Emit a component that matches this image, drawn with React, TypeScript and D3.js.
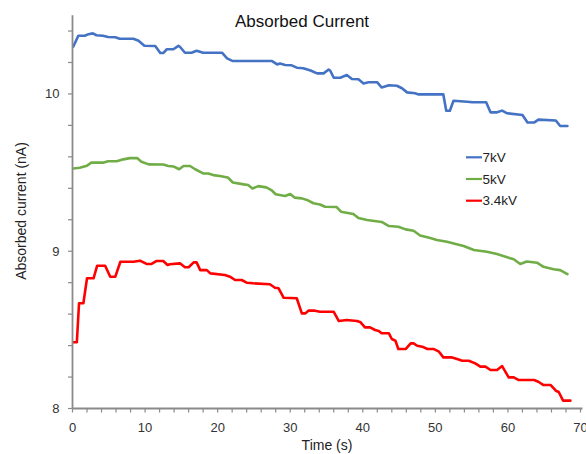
import React from "react";
import * as d3 from "d3";

const title = "Absorbed Current";
const xLabel = "Time (s)";
const yLabel = "Absorbed current (nA)";
const xTickLabels = [0, 10, 20, 30, 40, 50, 60, 70];
const yTickLabels = [8, 9, 10];
const seriesNames = ["7kV", "5kV", "3.4kV"];
const seriesColors = ["#4472C4", "#70AD47", "#FF0000"];

const t7 = [0.1, 0.8, 1.7, 2.2, 2.8, 3.3, 4.2, 4.9, 5.9, 6.5, 8.4, 9.1, 9.9, 11.4, 12.1, 12.5, 13.0, 13.9, 14.6, 14.8, 15.5, 16.4, 17.1, 18.0, 20.6, 21.3, 22.1, 27.5, 28.2, 28.6, 29.3, 30.2, 30.9, 31.8, 32.8, 33.7, 34.6, 35.3, 35.5, 36.0, 36.9, 37.8, 38.5, 39.4, 40.1, 40.8, 42.0, 42.6, 43.6, 44.7, 45.4, 46.1, 47.2, 47.7, 51.1, 51.5, 52.0, 52.5, 54.4, 55.1, 57.0, 57.6, 58.5, 59.2, 59.9, 62.0, 62.7, 63.6, 64.2, 66.6, 67.2, 68.2];
const v7 = [10.3, 10.37, 10.37, 10.38, 10.385, 10.373, 10.37, 10.362, 10.36, 10.351, 10.351, 10.338, 10.306, 10.305, 10.26, 10.26, 10.284, 10.284, 10.306, 10.3, 10.262, 10.262, 10.275, 10.262, 10.262, 10.226, 10.209, 10.209, 10.188, 10.193, 10.184, 10.182, 10.167, 10.163, 10.149, 10.131, 10.131, 10.155, 10.149, 10.103, 10.103, 10.12, 10.095, 10.093, 10.067, 10.074, 10.074, 10.041, 10.055, 10.052, 10.036, 10.01, 10.004, 9.997, 9.997, 9.893, 9.893, 9.957, 9.95, 9.947, 9.947, 9.883, 9.883, 9.894, 9.877, 9.866, 9.818, 9.818, 9.837, 9.831, 9.796, 9.796];

const t5 = [0.1, 1.0, 2.0, 2.6, 4.2, 4.9, 6.1, 7.0, 7.9, 8.9, 9.5, 10.5, 12.5, 13.2, 13.9, 14.7, 15.3, 16.2, 16.9, 18.0, 18.7, 19.4, 20.3, 21.4, 22.1, 23.6, 24.2, 24.8, 25.6, 26.7, 27.4, 28.0, 29.3, 30.0, 30.6, 31.6, 32.3, 33.2, 34.1, 34.8, 36.4, 37.0, 38.7, 39.4, 40.6, 42.6, 43.6, 44.9, 45.9, 47.0, 47.9, 49.3, 50.2, 51.6, 52.8, 53.9, 55.3, 57.1, 58.5, 59.9, 60.8, 61.7, 62.6, 64.0, 64.9, 66.3, 67.2, 68.2];
const v5 = [9.526, 9.531, 9.544, 9.563, 9.563, 9.572, 9.572, 9.584, 9.592, 9.592, 9.569, 9.552, 9.551, 9.542, 9.539, 9.521, 9.542, 9.542, 9.521, 9.495, 9.494, 9.484, 9.478, 9.469, 9.437, 9.425, 9.421, 9.399, 9.414, 9.406, 9.389, 9.362, 9.351, 9.364, 9.341, 9.336, 9.326, 9.305, 9.297, 9.283, 9.281, 9.251, 9.237, 9.211, 9.198, 9.186, 9.16, 9.156, 9.139, 9.13, 9.1, 9.084, 9.071, 9.06, 9.046, 9.033, 9.008, 8.997, 8.982, 8.961, 8.949, 8.919, 8.935, 8.927, 8.901, 8.885, 8.88, 8.855];

const t34 = [0.1, 0.6, 0.9, 1.5, 2.0, 2.9, 3.4, 4.5, 5.2, 5.9, 6.6, 8.4, 9.3, 10.2, 10.9, 11.6, 12.5, 13.1, 13.4, 14.8, 15.5, 16.0, 16.7, 17.1, 17.6, 18.5, 19.0, 21.0, 21.7, 22.4, 23.3, 24.0, 24.9, 27.2, 27.9, 28.4, 29.1, 30.9, 31.6, 32.1, 32.5, 33.4, 34.1, 36.0, 36.7, 37.8, 39.2, 39.7, 40.3, 41.0, 41.7, 42.2, 42.6, 43.6, 44.0, 44.5, 44.9, 45.9, 46.6, 47.0, 47.5, 48.2, 48.9, 49.8, 50.5, 51.1, 52.3, 53.0, 53.7, 54.6, 55.5, 56.2, 56.9, 57.6, 58.5, 59.2, 60.1, 60.8, 61.5, 63.6, 64.2, 64.9, 65.9, 66.6, 67.0, 67.6, 68.6];
const v34 = [8.421, 8.421, 8.669, 8.669, 8.828, 8.828, 8.908, 8.908, 8.838, 8.838, 8.933, 8.933, 8.94, 8.919, 8.919, 8.938, 8.938, 8.912, 8.917, 8.923, 8.898, 8.898, 8.929, 8.929, 8.88, 8.88, 8.859, 8.849, 8.838, 8.817, 8.817, 8.8, 8.796, 8.79, 8.768, 8.764, 8.704, 8.701, 8.605, 8.605, 8.622, 8.622, 8.615, 8.615, 8.556, 8.563, 8.556, 8.548, 8.516, 8.516, 8.499, 8.493, 8.478, 8.478, 8.442, 8.431, 8.378, 8.378, 8.414, 8.414, 8.399, 8.393, 8.378, 8.378, 8.361, 8.325, 8.325, 8.315, 8.304, 8.304, 8.287, 8.266, 8.266, 8.245, 8.245, 8.27, 8.198, 8.198, 8.181, 8.181, 8.17, 8.149, 8.149, 8.113, 8.105, 8.05, 8.05];

const seriesTimes = [t7, t5, t34];
const seriesValues = [v7, v5, v34];

const W = 586;
const H = 454;
const FONT = "'Liberation Sans', Arial, sans-serif";
const AXIS = "#8a8a8a";

export default function App() {
  const x = d3.scaleLinear().domain([0, 70]).range([72.5, 580.5]);
  const y = d3.scaleLinear().domain([8, 10.5]).range([408.5, 15.3]);
  const line = d3
    .line<[number, number]>()
    .x((d) => x(d[0]))
    .y((d) => y(d[1]));

  const xMinor = d3.range(0, 70.001, 2);
  const yMinor = d3.range(8, 10.5001, 0.2);

  return (
    <svg
      width={W}
      height={H}
      style={{ position: "absolute", left: 0, top: 0, background: "#fff" }}
      fontFamily={FONT}
    >
      <rect x={0} y={0} width={W} height={H} fill="#fff" />
      <text x={302} y={27} textAnchor="middle" fontSize={17} fill="#111">
        {title}
      </text>

      {/* series */}
      {seriesTimes.map((ts, i) => (
        <path
          key={i}
          d={line(ts.map((t, j) => [t, seriesValues[i][j]] as [number, number])) || ""}
          fill="none"
          stroke={seriesColors[i]}
          strokeWidth={2.6}
          strokeLinejoin="round"
          strokeLinecap="round"
        />
      ))}

      {/* y axis */}
      <line x1={x(0)} x2={x(0)} y1={y(10.5)} y2={y(8)} stroke={AXIS} strokeWidth={1.8} />
      {yMinor.map((v, i) => (
        <line key={i} x1={x(0) - 4.5} x2={x(0)} y1={y(v)} y2={y(v)} stroke={AXIS} strokeWidth={1.2} />
      ))}
      {yTickLabels.map((v) => (
        <text key={v} x={59.5} y={y(v)} dy="0.35em" textAnchor="end" fontSize={13} fill="#333">
          {v}
        </text>
      ))}

      {/* x axis */}
      <line x1={x(0)} x2={x(70) + 2} y1={y(8)} y2={y(8)} stroke={AXIS} strokeWidth={1.8} />
      {xMinor.map((t, i) => (
        <line key={i} x1={x(t)} x2={x(t)} y1={y(8)} y2={y(8) + 4} stroke={AXIS} strokeWidth={1.2} />
      ))}
      {xTickLabels.map((t) => (
        <text key={t} x={x(t)} y={431.5} textAnchor="middle" fontSize={13} fill="#333">
          {t}
        </text>
      ))}

      <text x={327} y={450} textAnchor="middle" fontSize={14} fill="#222">
        {xLabel}
      </text>
      <text
        transform={`translate(25.5,211) rotate(-90)`}
        textAnchor="middle"
        fontSize={14}
        fill="#222"
      >
        {yLabel}
      </text>

      {/* legend */}
      {seriesNames.map((n, i) => (
        <g key={n} transform={`translate(0,${157.3 + i * 21.7})`}>
          <line x1={466} x2={482} y1={0} y2={0} stroke={seriesColors[i]} strokeWidth={2.2} />
          <text x={482.5} y={0} dy="0.35em" fontSize={13.5} fill="#222">
            {n}
          </text>
        </g>
      ))}
    </svg>
  );
}
